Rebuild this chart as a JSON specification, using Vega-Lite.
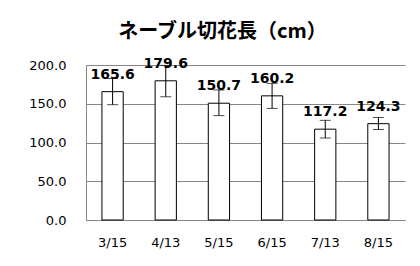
{
  "$schema": "https://vega.github.io/schema/vega-lite/v6.json",
  "width": 319,
  "height": 155,
  "autosize": {"type": "none"},
  "padding": {"left": 86, "top": 65, "right": 15, "bottom": 46},
  "background": "#ffffff",
  "title": {
    "text": "ネーブル切花長（cm）",
    "font": "Noto Sans CJK JP",
    "fontSize": 20,
    "fontWeight": "bold",
    "color": "#000000",
    "anchor": "middle",
    "frame": "group",
    "dx": -23,
    "offset": 15
  },
  "data": {
    "values": [
      {"date": "3/15", "value": 165.6, "lo": 148.8, "hi": 182.6},
      {"date": "4/13", "value": 179.6, "lo": 159.0, "hi": 199.5},
      {"date": "5/15", "value": 150.7, "lo": 134.7, "hi": 167.8},
      {"date": "6/15", "value": 160.2, "lo": 144.0, "hi": 176.3},
      {"date": "7/13", "value": 117.2, "lo": 105.8, "hi": 128.6},
      {"date": "8/15", "value": 124.3, "lo": 116.8, "hi": 132.3}
    ]
  },
  "encoding": {
    "x": {
      "field": "date",
      "type": "ordinal",
      "sort": null,
      "scale": {"paddingInner": 0.6, "paddingOuter": 0.3},
      "axis": {
        "title": null,
        "labelAngle": 0,
        "ticks": false,
        "domainColor": "#868686",
        "labelFont": "DejaVu Sans",
        "labelFontSize": 13,
        "labelColor": "#000000",
        "labelPadding": 16
      }
    }
  },
  "layer": [
    {
      "mark": {"type": "bar", "fill": "#ffffff", "stroke": "#000000", "strokeWidth": 1},
      "encoding": {
        "y": {
          "field": "value",
          "type": "quantitative",
          "scale": {"domain": [0, 200], "nice": false},
          "axis": {"title": null, "values": [0, 50, 100, 150, 200]}
        }
      }
    },
    {
      "mark": {"type": "rule", "color": "#000000", "strokeWidth": 1},
      "encoding": {
        "y": {"field": "lo", "type": "quantitative", "axis": {"title": null, "values": [0, 50, 100, 150, 200]}},
        "y2": {"field": "hi"}
      }
    },
    {
      "mark": {"type": "tick", "color": "#000000", "thickness": 1, "size": 11, "orient": "horizontal"},
      "encoding": {"y": {"field": "lo", "type": "quantitative", "axis": {"title": null, "values": [0, 50, 100, 150, 200]}}}
    },
    {
      "mark": {"type": "tick", "color": "#000000", "thickness": 1, "size": 11, "orient": "horizontal"},
      "encoding": {"y": {"field": "hi", "type": "quantitative", "axis": {"title": null, "values": [0, 50, 100, 150, 200]}}}
    },
    {
      "mark": {"type": "text", "font": "DejaVu Sans", "fontSize": 14, "fontWeight": "bold", "color": "#000000", "baseline": "bottom", "dy": -10},
      "encoding": {
        "y": {"field": "value", "type": "quantitative", "axis": {"title": null, "values": [0, 50, 100, 150, 200]}},
        "text": {"field": "value", "type": "quantitative", "format": ".1f"}
      }
    }
  ],
  "config": {
    "view": {"stroke": null},
    "axisY": {
      "format": ".1f",
      "labelOverlap": false,
      "ticks": false,
      "domainColor": "#868686",
      "gridColor": "#868686",
      "labelFont": "DejaVu Sans",
      "labelFontSize": 13,
      "labelColor": "#000000",
      "labelPadding": 20
    }
  }
}
